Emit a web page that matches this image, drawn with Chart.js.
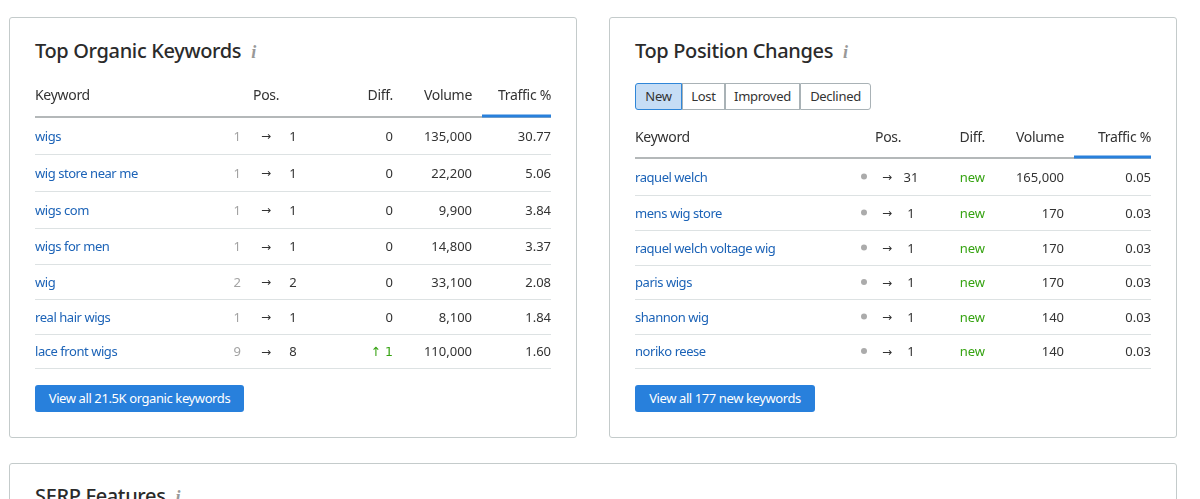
<!DOCTYPE html>
<html>
<head>
<meta charset="utf-8">
<script src="https://cdn.jsdelivr.net/npm/chart.js@4"></script>
<style>
	html, body { margin: 0; height: 499px; overflow: hidden; background: #fff; font-family: "Noto Sans", sans-serif; color: #333; }
	.card { position: absolute; box-sizing: border-box; border: 1px solid #c4cbcb; border-radius: 3px; background: #fff; }
	.title { position: absolute; font-size: 20px; font-weight: 500; color: #2b2b2b; line-height: 26px; white-space: nowrap; letter-spacing: -0.35px; }
	.title i { font-family: "Liberation Serif", serif; font-size: 18px; font-weight: 700; color: #999; margin-left: 10px; }
	.btn { position: absolute; box-sizing: border-box; height: 27px; line-height: 26px; text-align: center; background: #2880dc; color: #fff; border-radius: 3px; font-size: 13px; letter-spacing: -0.4px; }
	.tab { position: absolute; top: 83px; box-sizing: border-box; height: 27px; line-height: 25px; text-align: center; font-size: 13px; letter-spacing: -0.3px; border: 1px solid #a9b2b6; margin-left: -1px; color: #333; }
	.tab.on { background: #c6ddf5; border-color: #2f86d8; z-index: 1; border-radius: 3px 0 0 3px; }
	.tab.end { border-radius: 0 3px 3px 0; }
	canvas { position: absolute; }
</style>
</head>
<body>
	<div class="card" style="left:9px;top:17px;width:568px;height:421px"></div>
	<div class="card" style="left:609px;top:17px;width:568px;height:421px"></div>
	<div class="card" style="left:9px;top:463px;width:1168px;height:60px"></div>

	<div class="title" style="left:35px;top:38px">Top Organic Keywords<i>i</i></div>
	<div class="title" style="left:635px;top:38px">Top Position Changes<i>i</i></div>
	<div class="title" style="left:35px;top:483px">SERP Features<i>i</i></div>

	<div class="tab on" style="left:636px;width:47px">New</div>
	<div class="tab" style="left:683px;width:43px">Lost</div>
	<div class="tab" style="left:726px;width:75px">Improved</div>
	<div class="tab end" style="left:801px;width:71px">Declined</div>

	<div class="btn" style="left:35px;top:385px;width:209px">View all 21.5K organic keywords</div>
	<div class="btn" style="left:635px;top:385px;width:180px">View all 177 new keywords</div>

	<canvas id="organic" width="516" height="295" style="left:35px;top:80px"></canvas>
	<canvas id="changes" width="516" height="255" style="left:635px;top:122px"></canvas>

<script>
	const FONT = '"Noto Sans", sans-serif';
	const BLUE = "#1c63b7";
	const GREEN = "#36a312";
	const GREY = "#a3a3a3";
	const DARK = "#333";

	const organicRows = [
		["wigs", 1, 1, "0", "135,000", "30.77"],
		["wig store near me", 1, 1, "0", "22,200", "5.06"],
		["wigs com", 1, 1, "0", "9,900", "3.84"],
		["wigs for men", 1, 1, "0", "14,800", "3.37"],
		["wig", 2, 2, "0", "33,100", "2.08"],
		["real hair wigs", 1, 1, "0", "8,100", "1.84"],
		["lace front wigs", 9, 8, "↑ 1", "110,000", "1.60"],
	];

	const changesRows = [
		["raquel welch", "", 31, "new", "165,000", "0.05"],
		["mens wig store", "", 1, "new", "170", "0.03"],
		["raquel welch voltage wig", "", 1, "new", "170", "0.03"],
		["paris wigs", "", 1, "new", "170", "0.03"],
		["shannon wig", "", 1, "new", "140", "0.03"],
		["noriko reese", "", 1, "new", "140", "0.03"],
	];

	// draws every dataset's labels at the point the scales gave it
	const cellText = {
		id: "cellText",
		afterDatasetsDraw(chart) {
			const {ctx} = chart;
			ctx.save();
			ctx.textBaseline = "middle";
			chart.data.datasets.forEach((dataset, index) => {
				chart.getDatasetMeta(index).data.forEach((point, i) => {
					const label = dataset.data[i].label;
					if (label === "") return;
					ctx.font = dataset.cellFont || `13px ${FONT}`;
					ctx.letterSpacing = dataset.spacing || "0px";
					ctx.textAlign = dataset.align;
					let color = dataset.color;
					if (dataset.diff && label !== "0") color = GREEN;
					// the thin up arrow of Noto looks wrong here
					if (label[0] === "↑") ctx.font = `12.5px "DejaVu Sans", sans-serif`;
					ctx.fillStyle = color;
					ctx.fillText(label, point.x, point.y + 1.5);
				});
			});
			ctx.restore();
		}
	};

	function buildChart(id, config) {
		const {rows, edges, headerY, columns, width, height, sort} = config;
		const centers = rows.map((row, i) => (edges[i] + edges[i + 1]) / 2);

		const datasets = columns.map(col => {
			const data = rows.map((row, i) => ({
				x: col.x,
				y: centers[i],
				label: col.text ? col.text : String(row[col.key]),
			}));
			return {
				data: data,
				align: col.align,
				color: col.color,
				diff: col.diff,
				cellFont: col.font,
				spacing: col.spacing,
				pointRadius: col.dot ? 3 : 0,
				pointBackgroundColor: "#ababab",
				pointBorderWidth: 0,
			};
		});

		// header row
		datasets.push(...config.headers.map(head => ({
			data: [{x: head.x, y: headerY, label: head.label}],
			align: head.align,
			color: DARK,
			cellFont: `14px ${FONT}`,
			spacing: "-0.3px",
			pointRadius: 0,
		})));

		// blue mark under the sorted column
		datasets.push({
			type: "line",
			data: [{x: sort[0], y: edges[0] - 1, label: ""}, {x: sort[1], y: edges[0] - 1, label: ""}],
			borderColor: "#2880dc",
			borderWidth: 3,
			pointRadius: 0,
			align: "left",
		});

		return new Chart(document.getElementById(id), {
			type: "scatter",
			data: {datasets},
			plugins: [cellText],
			options: {
				responsive: false,
				animation: false,
				layout: {padding: 0, autoPadding: false},
				plugins: {legend: {display: false}, tooltip: {enabled: false}},
				scales: {
					x: {type: "linear", display: false, min: 0, max: width},
					y: {
						type: "linear",
						reverse: true,
						min: 0,
						max: height,
						afterBuildTicks: axis => { axis.ticks = edges.map(value => ({value})); },
						afterFit: axis => { axis.width = 0; },
						ticks: {display: false},
						border: {display: false},
						grid: {
							drawTicks: false,
							color: ctx => ctx.index === 0 ? "#b4b8b9" : "#dde2e3",
							lineWidth: ctx => ctx.index === 0 ? 2 : 1,
						},
					},
				},
			},
		});
	}

	const arrowFont = `12px "DejaVu Sans", sans-serif`;

	buildChart("organic", {
		rows: organicRows,
		width: 516,
		height: 295,
		headerY: 15,
		edges: [37, 74, 111, 148, 184, 219, 254, 288],
		sort: [447, 516],
		headers: [
			{label: "Keyword", x: 0, align: "left"},
			{label: "Pos.", x: 218, align: "left"},
			{label: "Diff.", x: 358, align: "right"},
			{label: "Volume", x: 437, align: "right"},
			{label: "Traffic %", x: 516, align: "right"},
		],
		columns: [
			{key: 0, x: 0, align: "left", color: BLUE, spacing: "-0.45px"},
			{key: 1, x: 206, align: "right", color: GREY},
			{text: "→", x: 231, align: "center", color: DARK, font: arrowFont},
			{key: 2, x: 258, align: "center", color: DARK},
			{key: 3, x: 358, align: "right", color: DARK, diff: true},
			{key: 4, x: 437, align: "right", color: DARK},
			{key: 5, x: 516, align: "right", color: DARK},
		],
	});

	buildChart("changes", {
		rows: changesRows,
		width: 516,
		height: 255,
		headerY: 15,
		edges: [36, 73, 108, 143, 177, 212, 246],
		sort: [439, 516],
		headers: [
			{label: "Keyword", x: 0, align: "left"},
			{label: "Pos.", x: 240, align: "left"},
			{label: "Diff.", x: 350, align: "right"},
			{label: "Volume", x: 429, align: "right"},
			{label: "Traffic %", x: 516, align: "right"},
		],
		columns: [
			{key: 0, x: 0, align: "left", color: BLUE, spacing: "-0.45px"},
			{key: 1, x: 229, align: "center", color: GREY, dot: true},
			{text: "→", x: 252, align: "center", color: DARK, font: arrowFont},
			{key: 2, x: 276, align: "center", color: DARK},
			{key: 3, x: 350, align: "right", color: DARK, diff: true},
			{key: 4, x: 429, align: "right", color: DARK},
			{key: 5, x: 516, align: "right", color: DARK},
		],
	});
</script>
</body>
</html>
